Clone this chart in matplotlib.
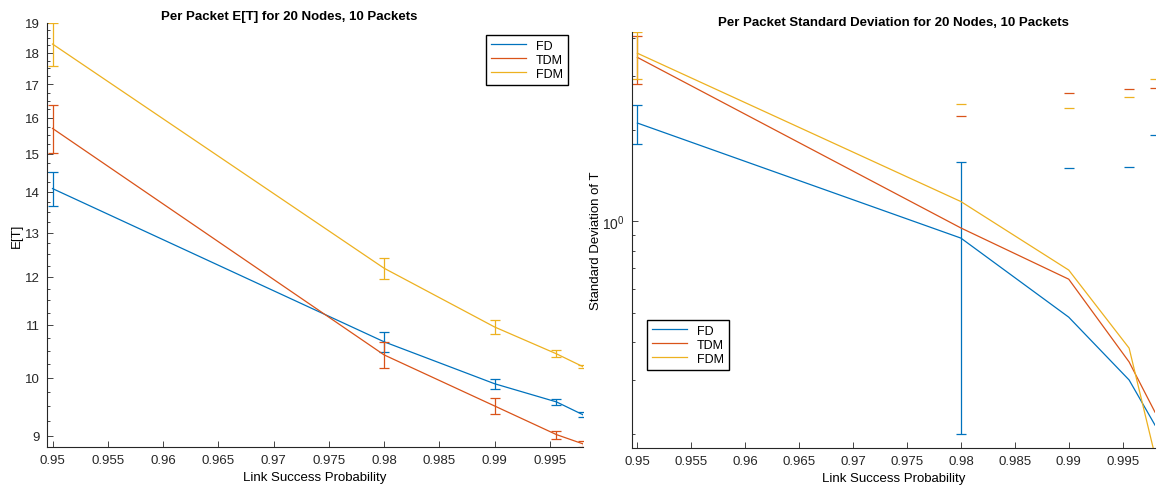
import numpy as np
import matplotlib
matplotlib.use("Agg")
import matplotlib.pyplot as plt
from matplotlib.ticker import FixedLocator, MultipleLocator, NullFormatter, LogLocator, FormatStrFormatter

plt.rcParams['font.family'] = ['Liberation Sans', 'DejaVu Sans']

# link success probability
p = [0.95, 0.98, 0.99, 0.9956, 0.998]
series = ['FD', 'TDM', 'FDM']
colors = ['#0072BD', '#D95319', '#EDB120']

# E[T] and error half widths
et_fd = [14.08, 10.67, 9.89, 9.57, 9.35]
et_tdm = [15.70, 10.42, 9.50, 9.02, 8.87]
et_fdm = [18.29, 12.19, 10.96, 10.44, 10.20]
et_err_fd = [0.43, 0.20, 0.09, 0.05, 0.04]
et_err_tdm = [0.67, 0.24, 0.13, 0.065, 0.05]
et_err_fdm = [0.70, 0.23, 0.13, 0.065, 0.03]

# standard deviation and error half widths
sd_fd = [2.10, 0.88, 0.484, 0.301, 0.214]
sd_tdm = [3.45, 0.95, 0.645, 0.345, 0.236]
sd_fdm = [3.56, 1.16, 0.691, 0.383, 0.17]
sd_err_fd = [0.31, 0.68, 1.01, 1.21, 1.70]
sd_err_tdm = [0.62, 1.26, 1.985, 2.37, 2.51]
sd_err_fdm = [0.62, 1.26, 1.67, 2.17, 2.77]

et = [et_fd, et_tdm, et_fdm]
et_err = [et_err_fd, et_err_tdm, et_err_fdm]
sd = [sd_fd, sd_tdm, sd_fdm]
sd_err = [sd_err_fd, sd_err_tdm, sd_err_fdm]

W, H = 1161, 489
fig = plt.figure(figsize=(W / 100, H / 100), dpi=100)
ax1 = fig.add_axes([47 / W, 1 - 448 / H, (583 - 47) / W, (448 - 24) / H])
ax2 = fig.add_axes([632 / W, 1 - 449 / H, (1155 - 632) / W, (449 - 33) / H])

lw = 0.9
cap = 3.6

# left: E[T]
handles = []
for i in range(3):
    h, = ax1.plot(p, et[i], color=colors[i], lw=lw, label=series[i])
    ax1.errorbar(p, et[i], yerr=et_err[i], fmt='none', ecolor=colors[i],
                 elinewidth=lw, capsize=cap, capthick=lw)
    handles.append(h)
ax1.set_yscale('log')
ax1.set_ylim(8.82, 19.0)
ax1.yaxis.set_major_locator(FixedLocator(range(9, 20)))
ax1.yaxis.set_major_formatter(FormatStrFormatter('%d'))
ax1.yaxis.set_minor_locator(MultipleLocator(0.25))
ax1.yaxis.set_minor_formatter(NullFormatter())
ax1.set_ylabel('E[T]', fontsize=9.5, labelpad=2)
ax1.set_title('Per Packet E[T] for 20 Nodes, 10 Packets', fontsize=9.5,
              fontweight='bold', x=0.451, pad=3)
ax1.legend(handles=handles, loc='upper right', bbox_to_anchor=(0.972, 0.972),
           borderaxespad=0, fancybox=False, edgecolor='black', framealpha=1,
           fontsize=9, handlelength=2.8, labelspacing=0.15)

# right: std dev, errorbars with non-positive lower bound only show top cap
handles = []
for i in range(3):
    x = np.array(p)
    y = np.array(sd[i])
    e = np.array(sd_err[i])
    h, = ax2.plot(x, y, color=colors[i], lw=lw, label=series[i])
    ok = y - e > 0
    ax2.errorbar(x[ok], y[ok], yerr=e[ok], fmt='none', ecolor=colors[i],
                 elinewidth=lw, capsize=cap, capthick=lw)
    ax2.plot(x[~ok], (y + e)[~ok], ls='none', marker='_', ms=2 * cap,
             mew=lw, color=colors[i])
    handles.append(h)
ax2.set_yscale('log')
ax2.set_ylim(0.18, 4.18)
ax2.yaxis.set_major_locator(LogLocator(base=10))
ax2.yaxis.set_minor_locator(LogLocator(base=10, subs=np.arange(2, 10)))
ax2.yaxis.set_minor_formatter(NullFormatter())
ax2.set_ylabel('Standard Deviation of T', fontsize=9.5, labelpad=0)
ax2.set_title('Per Packet Standard Deviation for 20 Nodes, 10 Packets',
              fontsize=9.5, fontweight='bold', pad=5)
ax2.legend(handles=handles, loc='upper left', bbox_to_anchor=(0.029, 0.308),
           borderaxespad=0, fancybox=False, edgecolor='black', framealpha=1,
           fontsize=9, handlelength=2.8, labelspacing=0.15)

xt = np.arange(0.95, 0.9951, 0.005)
for ax in (ax1, ax2):
    ax.set_xlim(0.9495, 0.998)
    ax.set_xticks(xt)
    ax.set_xticklabels(['%g' % round(v, 3) for v in xt])
    ax.set_xlabel('Link Success Probability', fontsize=9.5, labelpad=4)
    ax.spines['top'].set_visible(False)
    ax.spines['right'].set_visible(False)
    for s in ('left', 'bottom'):
        ax.spines[s].set_linewidth(0.8)
        ax.spines[s].set_color('#262626')
    ax.tick_params(which='both', direction='in', labelsize=9.5, colors='#262626',
                   width=0.6, pad=5)
    ax.tick_params(which='major', length=4)
    ax.tick_params(which='minor', length=2)
ax2.tick_params(axis='y', labelsize=10)

fig.savefig('out.png', dpi=100)
